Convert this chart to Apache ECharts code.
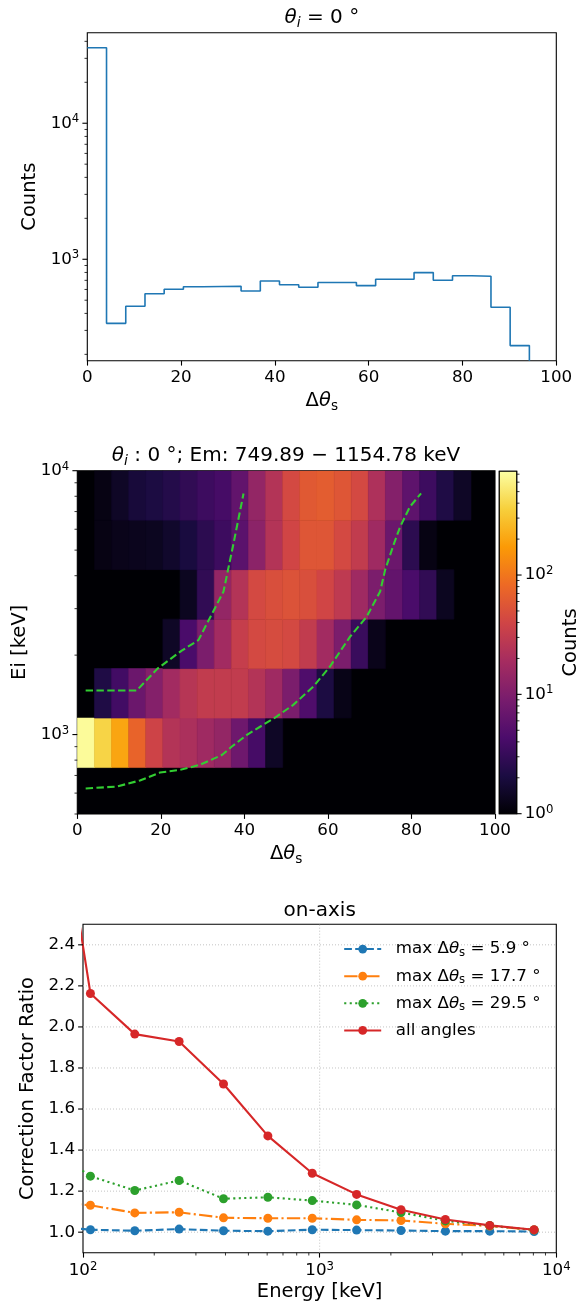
<!DOCTYPE html>
<html>
<head>
<meta charset="utf-8">
<script src="https://cdn.jsdelivr.net/npm/echarts@6/dist/echarts.min.js"></script>
<style>
  html, body { margin: 0; padding: 0; background: #fff; }
  #chart { width: 586px; height: 1302px; }
</style>
</head>
<body>
<div id="chart"></div>
<script>
// ---------- data ----------
// scattering-angle bins (degrees), shared by the histogram and the 2D map
const angleEdges = [0, 4.10, 8.20, 12.30, 16.39, 20.49, 24.59, 28.69, 32.79, 36.89, 40.98, 45.08,
  49.18, 53.28, 57.38, 61.48, 65.57, 69.67, 73.77, 77.87, 81.97, 86.07, 90.16, 94.26];
// counts per angle bin, theta_i = 0 deg
const histCounts = [35900, 338, 451, 558, 602, 628, 631, 633, 585, 692, 650, 622,
  674, 674, 640, 713, 713, 798, 701, 757, 750, 444, 232];

// incident-energy bins (keV)
const energyEdges = [486.97, 749.89, 1154.78, 1778.28, 2738.42, 4216.97, 6493.82, 10000];
// counts: one row per energy bin (low to high), one column per angle bin
const heatCounts = [
  [0, 0, 0, 0, 0, 0, 0, 0, 0, 0, 0, 0, 0, 0, 0, 0, 0, 0, 0, 0, 0, 0, 0],
  [690, 380, 197, 73, 38, 24, 21, 17, 14, 7.7, 4.0, 1.5, 0, 0, 0, 0, 0, 0, 0, 0, 0, 0, 0],
  [0, 2.2, 3.8, 7.3, 11, 18, 25.5, 31, 31, 31, 24, 17, 9.5, 4.6, 2.1, 1.25, 0, 0, 0, 0, 0, 0, 0],
  [0, 0, 0, 0, 0, 1.5, 4.3, 9.5, 18, 33, 43, 46, 43, 31, 18, 9.5, 3.3, 1.3, 0, 0, 0, 0, 0],
  [0, 0, 0, 0, 0, 0, 1.4, 2.9, 14, 24, 43, 49, 53, 49, 40, 29, 17, 9.5, 6.4, 4.3, 2.9, 1.4, 0],
  [0, 1.2, 1.3, 1.35, 1.4, 1.6, 2.0, 2.7, 3.5, 5.6, 12.3, 24, 40, 56, 56, 43, 31, 17, 7.3, 2.7, 1.2, 0, 0],
  [0, 1.2, 1.5, 1.9, 2.1, 2.4, 2.9, 3.5, 4.0, 6.3, 14, 24, 43, 60, 64, 56, 43, 22, 11, 5.9, 3.5, 2.2, 1.5]
];
// dashed acceptance boundaries [angle, energy keV]
const boundLeft = [[2.0, 1468], [14.2, 1468], [19.2, 1778], [25.0, 2080], [29.0, 2280],
  [35.0, 3483], [37.4, 5300], [39.8, 8200]];
const boundRight = [[2.0, 625], [9.4, 635], [15.0, 670], [19.8, 718], [24.6, 735], [29.4, 768],
  [34.7, 838], [37.0, 901], [40.6, 997], [47.7, 1170], [51.7, 1296], [56.5, 1520], [60.5, 1811],
  [65.3, 2349], [69.3, 2800], [72.5, 3483], [73.7, 4209], [75.7, 5232], [77.3, 6136],
  [79.65, 7310], [82.3, 8204]];
const countsMax = 740;

// correction factor ratios vs energy (keV)
const energies = [69.8, 107.5, 165.5, 254.8, 392.4, 604.2, 930.6, 1433, 2207, 3398, 5233, 8058];
const ratioMax59 = [1.03, 1.012, 1.007, 1.015, 1.007, 1.005, 1.012, 1.010, 1.008, 1.005, 1.005, 1.003];
const ratioMax177 = [1.15, 1.131, 1.094, 1.097, 1.070, 1.068, 1.068, 1.060, 1.057, 1.041, 1.030, 1.011];
const ratioMax295 = [1.42, 1.273, 1.203, 1.252, 1.163, 1.170, 1.154, 1.133, 1.096, 1.055, 1.032, 1.011];
const ratioAll = [3.54, 2.163, 1.965, 1.929, 1.722, 1.469, 1.287, 1.184, 1.109, 1.062, 1.033, 1.012];
const maxAngles = [5.9, 17.7, 29.5];

// tick values
const histMinorTicks = [200, 300, 400, 500, 600, 700, 800, 900, 2000, 3000, 4000, 5000, 6000, 7000,
  8000, 9000, 20000, 30000, 40000];
const decadeTicks = [1000, 10000];
const heatMinorTicks = [500, 600, 700, 800, 900, 2000, 3000, 4000, 5000, 6000, 7000, 8000, 9000];
const cbMajorTicks = [1, 10, 100];
const cbMinorTicks = [2, 3, 4, 5, 6, 7, 8, 9, 20, 30, 40, 50, 60, 70, 80, 90, 200, 300, 400, 500, 600, 700];
const energyMinorTicks = [200, 300, 400, 500, 600, 700, 800, 900, 2000, 3000, 4000, 5000, 6000, 7000, 8000, 9000];
const energyGridTicks = [1000];
const ratioTicks = [1.0, 1.2, 1.4, 1.6, 1.8, 2.0, 2.2, 2.4];

// ---------- styling ----------
const FONT = 'DejaVu Sans';
const TICK_FS = 16.7, LABEL_FS = 19.5, TITLE_FS = 20, LEGEND_FS = 16.7;
const MAJOR_LEN = 4.9, MINOR_LEN = 2.8;
const INFERNO = ['#000004', '#1B0C42', '#4B0C6B', '#781C6D', '#A52C60', '#CF4446',
  '#ED6925', '#FB9A06', '#F7D03C', '#FCFFA4'];

function mathRich(size) {
  const base = { fontFamily: FONT, color: '#000' };
  return {
    n: Object.assign({ fontSize: size, lineHeight: size * 1.25 }, base),
    it: Object.assign({ fontSize: size, lineHeight: size * 1.25, fontStyle: 'italic' }, base),
    sub: Object.assign({ fontSize: size * 0.7, lineHeight: size * 0.72, verticalAlign: 'bottom' }, base),
    subit: Object.assign({ fontSize: size * 0.7, lineHeight: size * 0.72, verticalAlign: 'bottom', fontStyle: 'italic' }, base),
    sp: { width: 9.6 }
  };
}
const powRich = {
  b: { fontFamily: FONT, fontSize: TICK_FS, color: '#000', lineHeight: 20 },
  s: { fontFamily: FONT, fontSize: TICK_FS * 0.7, color: '#000', lineHeight: 11, verticalAlign: 'top' }
};
const powLabel = v => '{b|10}{s|' + Math.round(Math.log10(v)) + '}';
const deltaTheta = '{n|Δ}{it|θ}{sub|s}';

// short tick marks drawn through the axis scales
function tickMarks(axisIdx, pts, side, len, width) {
  return {
    type: 'custom', xAxisIndex: axisIdx, yAxisIndex: axisIdx, silent: true, z: 30, clip: false,
    data: pts,
    renderItem(params, api) {
      const p = api.coord([api.value(0), api.value(1)]);
      let x2 = p[0], y2 = p[1];
      if (side === 'left') x2 -= len;
      else if (side === 'right') x2 += len;
      else y2 += len;
      return { type: 'line', shape: { x1: p[0], y1: p[1], x2: x2, y2: y2 },
        style: { stroke: '#000', lineWidth: width } };
    }
  };
}

// dotted grid lines between two data points
function gridLines(axisIdx, segs) {
  return {
    type: 'custom', xAxisIndex: axisIdx, yAxisIndex: axisIdx, silent: true, z: 1, clip: false,
    data: segs,
    renderItem(params, api) {
      const p0 = api.coord([api.value(0), api.value(1)]);
      const p1 = api.coord([api.value(2), api.value(3)]);
      return { type: 'line', shape: { x1: p0[0], y1: p0[1], x2: p1[0], y2: p1[1] },
        style: { stroke: '#bdbdbd', lineWidth: 0.9, lineDash: [1, 2] } };
    }
  };
}

function linearAxisBase() {
  return {
    axisLine: { show: false },
    axisTick: { show: true, inside: false, length: MAJOR_LEN, lineStyle: { color: '#000', width: 1.1 } },
    axisLabel: { color: '#000', fontFamily: FONT, fontSize: TICK_FS, margin: 8 },
    splitLine: { show: false }
  };
}

// histogram outline as a step path
const histPath = [];
histCounts.forEach((c, i) => { histPath.push([angleEdges[i], c], [angleEdges[i + 1], c]); });
const histFloor = 179.6;
histPath.push([angleEdges[angleEdges.length - 1], histFloor]);

// 2D map cells
const heatCells = [];
heatCounts.forEach((row, r) => row.forEach((c, k) => {
  if (c > 0) heatCells.push([angleEdges[k], angleEdges[k + 1], energyEdges[r], energyEdges[r + 1], Math.log10(Math.max(c, 1))]);
}));

const grids = [
  { left: 87.3, top: 32.7, width: 469, height: 328 },
  { left: 77.3, top: 470.7, width: 417.7, height: 343.3, backgroundColor: '#000004' },
  { left: 499.3, top: 471.3, width: 17.4, height: 342.4 },
  { left: 83, top: 924.3, width: 473.3, height: 328.4 }
].map(g => Object.assign({ show: true, borderColor: '#000', borderWidth: 1.1, containLabel: false, outerBoundsMode: 'none' }, g));

const xAxes = [
  Object.assign(linearAxisBase(), { gridIndex: 0, type: 'value', min: 0, max: 100, interval: 20,
    name: deltaTheta, nameLocation: 'middle', nameGap: 28, nameTextStyle: { rich: mathRich(LABEL_FS) } }),
  Object.assign(linearAxisBase(), { gridIndex: 1, type: 'value', min: 0, max: 100, interval: 20,
    name: deltaTheta, nameLocation: 'middle', nameGap: 28, nameTextStyle: { rich: mathRich(LABEL_FS) } }),
  { gridIndex: 2, type: 'value', min: 0, max: 1, show: false },
  Object.assign(linearAxisBase(), { gridIndex: 3, type: 'log', logBase: 10, min: 100, max: 10000,
    axisLabel: { formatter: powLabel, rich: powRich, margin: 8, showMinLabel: true, showMaxLabel: true },
    name: 'Energy [keV]', nameLocation: 'middle', nameGap: 29,
    nameTextStyle: { fontFamily: FONT, fontSize: LABEL_FS, color: '#000' } })
];

const yAxes = [
  Object.assign(linearAxisBase(), { gridIndex: 0, type: 'log', logBase: 10, min: histFloor, max: 46300,
    axisTick: { show: false },
    axisLabel: { formatter: powLabel, rich: powRich, margin: 8, showMinLabel: false, showMaxLabel: false },
    name: 'Counts', nameLocation: 'middle', nameRotate: 90, nameGap: 47,
    nameTextStyle: { fontFamily: FONT, fontSize: LABEL_FS, color: '#000' } }),
  Object.assign(linearAxisBase(), { gridIndex: 1, type: 'log', logBase: 10, min: 500, max: 10000,
    axisTick: { show: false },
    axisLabel: { formatter: powLabel, rich: powRich, margin: 8, showMinLabel: false, showMaxLabel: true },
    name: 'Ei [keV]', nameLocation: 'middle', nameRotate: 90, nameGap: 46,
    nameTextStyle: { fontFamily: FONT, fontSize: LABEL_FS, color: '#000' } }),
  Object.assign(linearAxisBase(), { gridIndex: 2, type: 'log', logBase: 10, min: 1, max: countsMax, position: 'right',
    axisTick: { show: false },
    axisLabel: { formatter: powLabel, rich: powRich, margin: 8, showMinLabel: true, showMaxLabel: false },
    name: 'Counts', nameLocation: 'middle', nameRotate: 90, nameGap: 44,
    nameTextStyle: { fontFamily: FONT, fontSize: LABEL_FS, color: '#000' } }),
  Object.assign(linearAxisBase(), { gridIndex: 3, type: 'value', min: 0.9, max: 2.5, splitNumber: 8,
    axisTick: { show: false },
    axisLabel: { color: '#000', fontFamily: FONT, fontSize: TICK_FS, margin: 8, showMinLabel: false, showMaxLabel: false,
      formatter: v => v.toFixed(1) },
    name: 'Correction Factor Ratio', nameLocation: 'middle', nameRotate: 90, nameGap: 45,
    nameTextStyle: { fontFamily: FONT, fontSize: LABEL_FS, color: '#000' } })
];

const lineBase = (name, values, color, dash) => ({
  name: name, type: 'line', xAxisIndex: 3, yAxisIndex: 3, clip: true,
  data: energies.map((e, i) => [e, values[i]]),
  symbol: 'circle', symbolSize: 9, showSymbol: true,
  itemStyle: { color: color },
  lineStyle: { color: color, width: 2.1, type: dash },
  emphasis: { disabled: true }, animation: false
});
const ratioNames = maxAngles.map(a => 'max Δθs = ' + a + '°').concat(['all angles']);

const series = [
  // panel 1: histogram outline
  { type: 'line', xAxisIndex: 0, yAxisIndex: 0, data: histPath, showSymbol: false, symbol: 'none',
    lineStyle: { color: '#1f77b4', width: 1.6 }, clip: true, animation: false },
  tickMarks(0, decadeTicks.map(v => [0, v]), 'left', MAJOR_LEN, 1.1),
  tickMarks(0, histMinorTicks.map(v => [0, v]), 'left', MINOR_LEN, 0.8),

  // panel 2: 2D map
  { type: 'custom', xAxisIndex: 1, yAxisIndex: 1, data: heatCells, clip: true, animation: false,
    encode: { x: [0, 1], y: [2, 3] },
    renderItem(params, api) {
      const p0 = api.coord([api.value(0), api.value(2)]);
      const p1 = api.coord([api.value(1), api.value(3)]);
      const col = api.visual('color');
      return { type: 'rect', shape: { x: p0[0], y: p1[1], width: p1[0] - p0[0], height: p0[1] - p1[1] },
        style: { fill: col, stroke: col, lineWidth: 0.6 } };
    } },
  { type: 'line', xAxisIndex: 1, yAxisIndex: 1, data: boundLeft, showSymbol: false, symbol: 'none',
    lineStyle: { color: '#32cd32', width: 2.1, type: [7.4, 3.4] }, z: 5, animation: false },
  { type: 'line', xAxisIndex: 1, yAxisIndex: 1, data: boundRight, showSymbol: false, symbol: 'none',
    lineStyle: { color: '#32cd32', width: 2.1, type: [7.4, 3.4] }, z: 5, animation: false },
  tickMarks(1, decadeTicks.map(v => [0, v]), 'left', MAJOR_LEN, 1.1),
  tickMarks(1, heatMinorTicks.map(v => [0, v]), 'left', MINOR_LEN, 0.8),

  // colour bar
  { type: 'custom', xAxisIndex: 2, yAxisIndex: 2, data: [[0, 1, 1, countsMax]], clip: false, animation: false,
    renderItem(params, api) {
      const p0 = api.coord([api.value(0), api.value(2)]);
      const p1 = api.coord([api.value(1), api.value(3)]);
      const stops = INFERNO.map((c, i) => ({ offset: i / (INFERNO.length - 1), color: c }));
      return { type: 'rect', shape: { x: p0[0], y: p1[1], width: p1[0] - p0[0], height: p0[1] - p1[1] },
        style: { fill: new echarts.graphic.LinearGradient(0, 1, 0, 0, stops), stroke: '#000', lineWidth: 1.1 } };
    } },
  tickMarks(2, cbMajorTicks.map(v => [1, v]), 'right', MAJOR_LEN, 1.1),
  tickMarks(2, cbMinorTicks.map(v => [1, v]), 'right', MINOR_LEN, 0.8),

  // panel 3: dotted grid, then the ratio curves
  gridLines(3, ratioTicks.map(v => [100, v, 10000, v]).concat(energyGridTicks.map(e => [e, 0.9, e, 2.5]))),
  lineBase(ratioNames[0], ratioMax59, '#1f77b4', [7.7, 3.3]),
  lineBase(ratioNames[1], ratioMax177, '#ff7f0e', [13.3, 3.3, 2.1, 3.3]),
  lineBase(ratioNames[2], ratioMax295, '#2ca02c', [2.1, 3.4]),
  lineBase(ratioNames[3], ratioAll, '#d62728', 'solid'),
  tickMarks(3, energyMinorTicks.map(v => [v, 0.9]), 'bottom', MINOR_LEN, 0.8),
  tickMarks(3, ratioTicks.map(v => [100, v]), 'left', MAJOR_LEN, 1.1)
];

const legendRich = mathRich(LEGEND_FS);
Object.keys(legendRich).forEach(k => { if (legendRich[k].lineHeight) legendRich[k].lineHeight = Math.min(legendRich[k].lineHeight, 20); });

const option = {
  backgroundColor: '#fff',
  animation: false,
  grid: grids,
  xAxis: xAxes,
  yAxis: yAxes,
  visualMap: [{
    type: 'continuous', show: false, seriesIndex: 3, dimension: 4,
    min: 0, max: Math.log10(countsMax), inRange: { color: INFERNO }
  }],
  legend: {
    data: ratioNames, orient: 'vertical', left: 343.2, top: 940.6, padding: 0,
    itemWidth: 37, itemHeight: 11, itemGap: 8.6, selectedMode: false,
    textStyle: { rich: legendRich },
    formatter: name => {
      const i = ratioNames.indexOf(name);
      if (i < maxAngles.length) return '{sp|}{n|max Δ}{it|θ}{sub|s}{n| = ' + maxAngles[i] + ' °}';
      return '{sp|}{n|' + name + '}';
    }
  },
  graphic: [
    { type: 'text', x: 321.8, y: 18, style: { text: '{it|θ}{subit|i}{n| = 0 °}', rich: mathRich(TITLE_FS), align: 'center', verticalAlign: 'middle' } },
    { type: 'text', x: 286, y: 456, style: { text: '{it|θ}{subit|i}{n| : 0 °; Em: 749.89 − 1154.78 keV}', rich: mathRich(TITLE_FS), align: 'center', verticalAlign: 'middle' } },
    { type: 'text', x: 319.7, y: 910.7, style: { text: '{n|on-axis}', rich: mathRich(TITLE_FS), align: 'center', verticalAlign: 'middle' } }
  ],
  series: series
};

const chart = echarts.init(document.getElementById('chart'), null, { renderer: 'canvas', width: 586, height: 1302 });
chart.setOption(option);
</script>
</body>
</html>
